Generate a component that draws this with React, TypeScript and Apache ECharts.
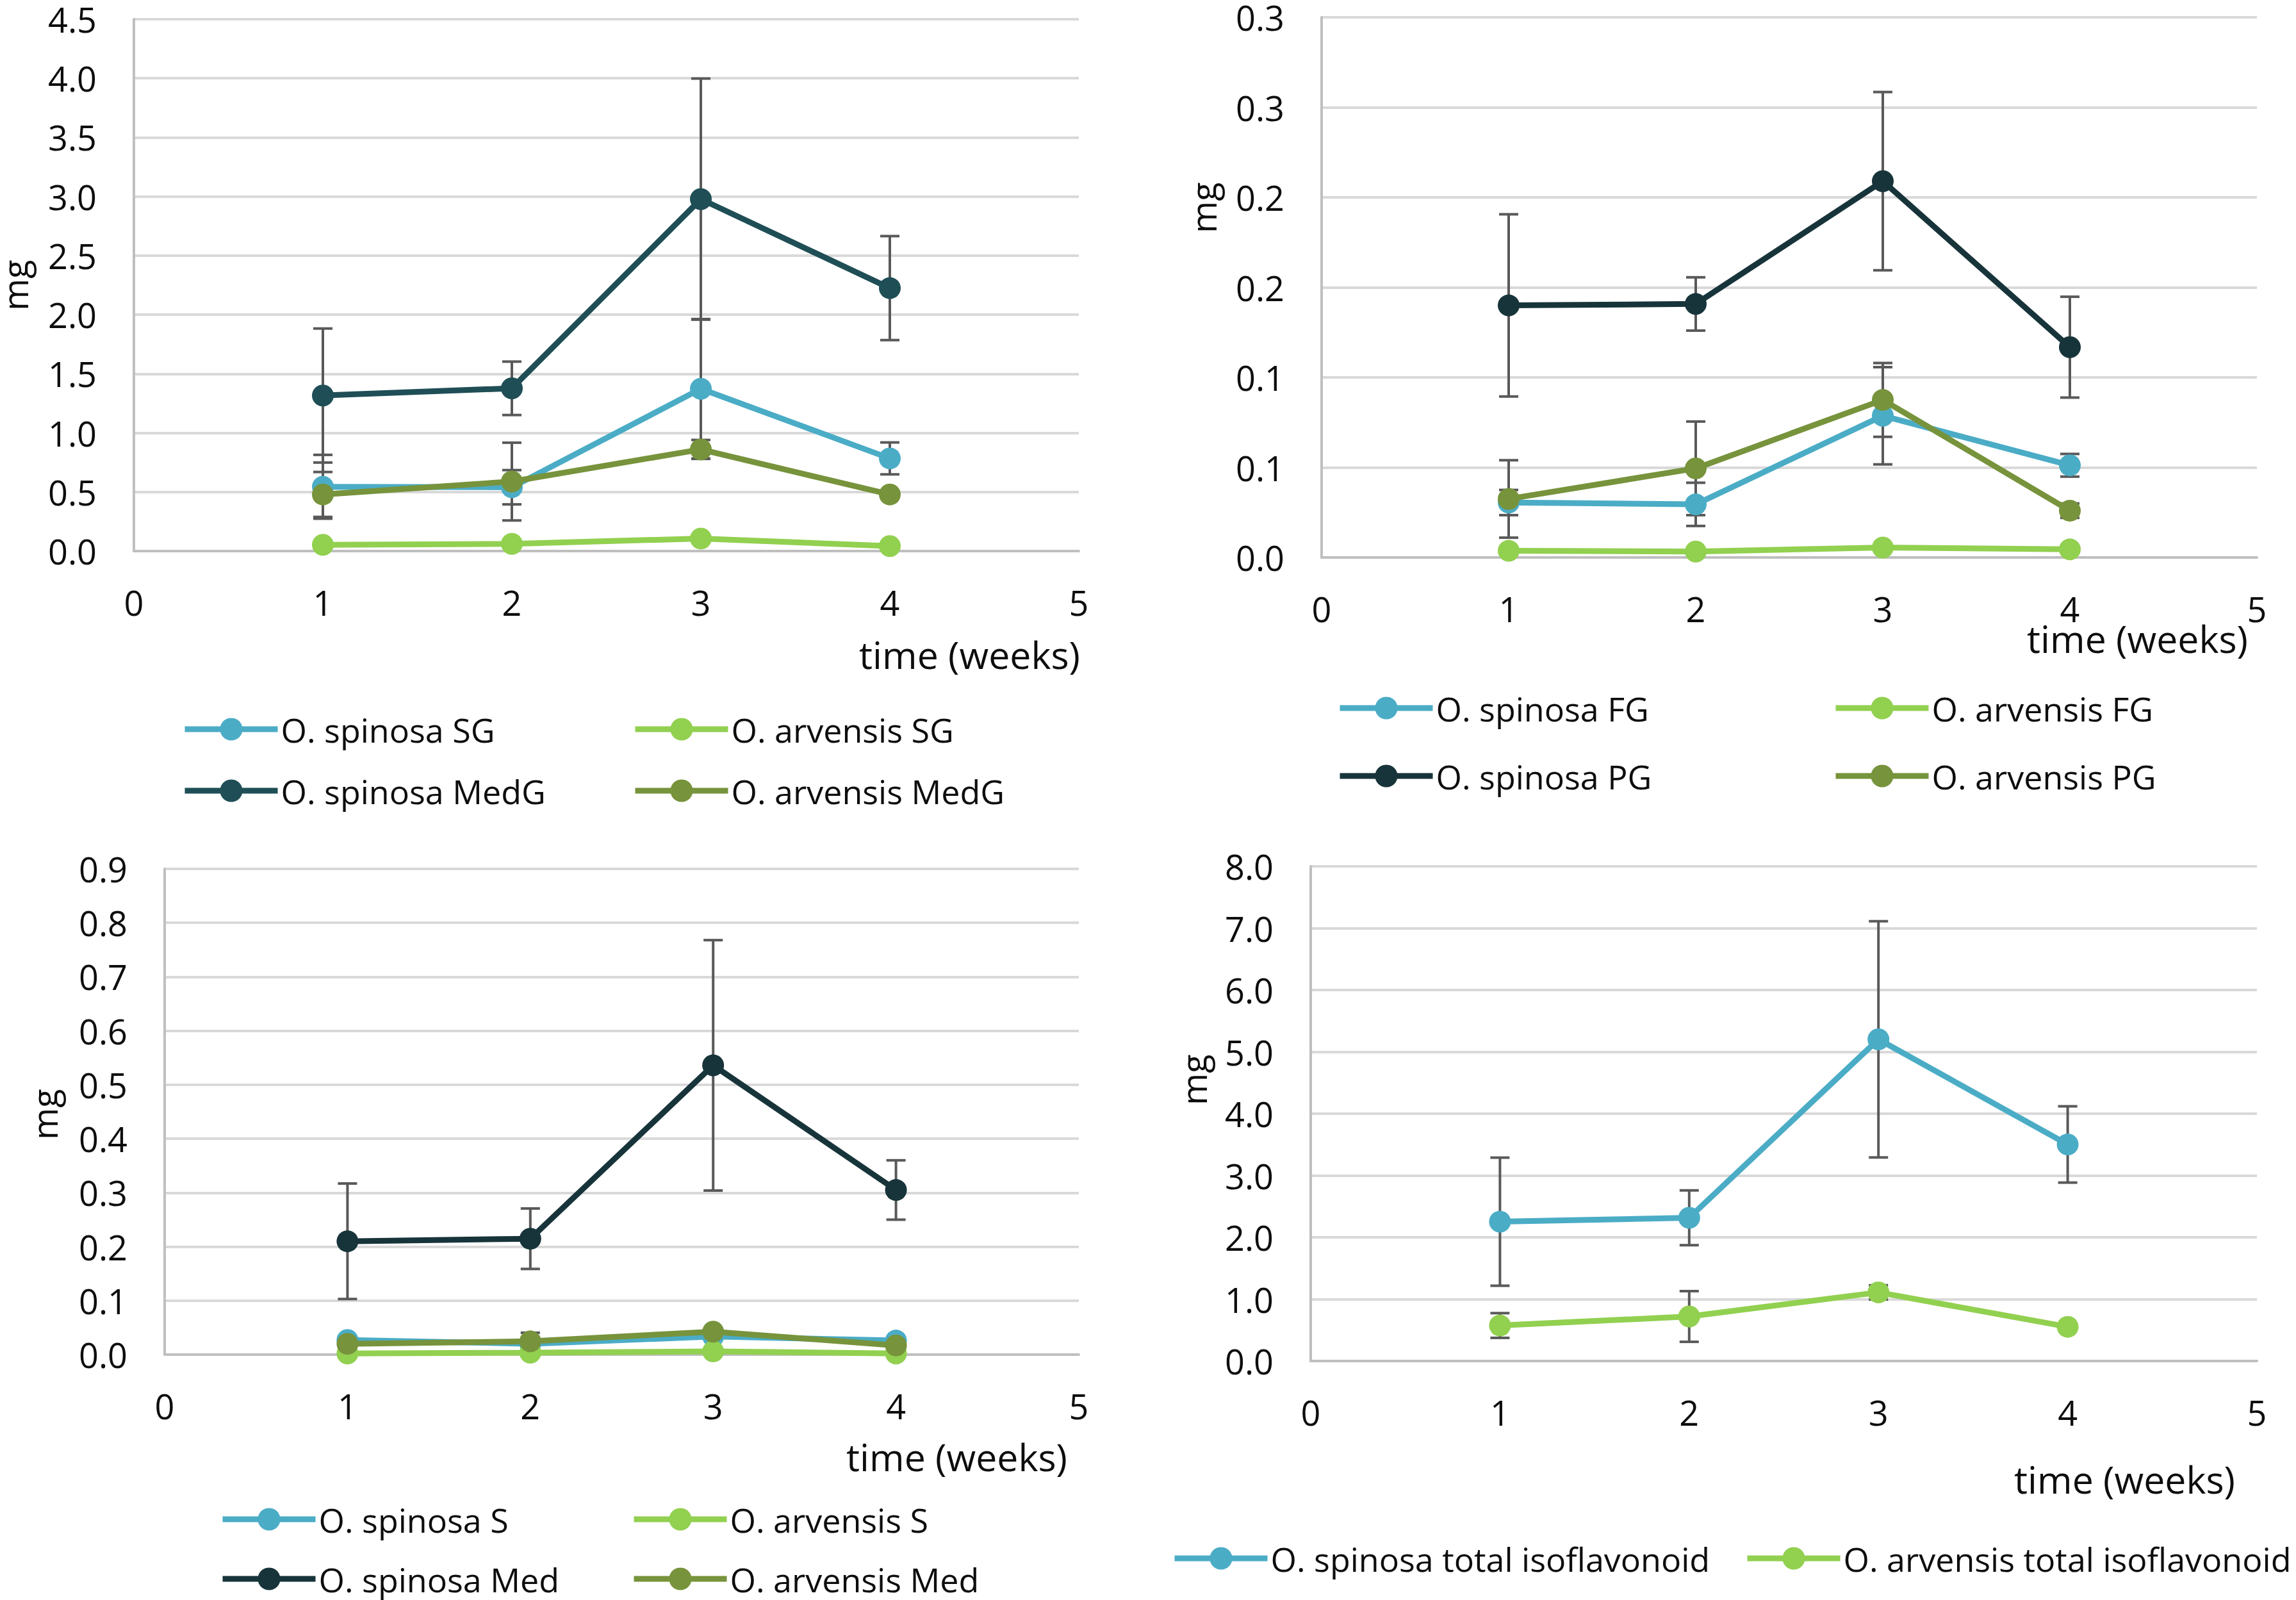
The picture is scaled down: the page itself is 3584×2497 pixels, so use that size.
import React, { useEffect, useRef } from 'react';
import * as echarts from 'echarts';

// ---------- data ----------
const weeks = [1, 2, 3, 4];
const xTicks = ['0', '1', '2', '3', '4', '5'];

// Panel A (top-left)
const spinosaSG = [0.544, 0.54, 1.373, 0.784];
const spinosaSGErr = [0.27, 0.145, 0.59, 0.135];
const arvensisSG = [0.053, 0.061, 0.106, 0.042];
const arvensisSGErr = [0.01, 0.01, 0.015, 0.008];
const spinosaMedG = [1.316, 1.377, 2.978, 2.225];
const spinosaMedGErr = [0.567, 0.226, 1.02, 0.44];
const arvensisMedG = [0.479, 0.588, 0.86, 0.479];
const arvensisMedGErr = [0.19, 0.329, 0.08, 0.03];
const yTicksA = ['0.0', '0.5', '1.0', '1.5', '2.0', '2.5', '3.0', '3.5', '4.0', '4.5'];

// Panel B (top-right)
const spinosaFG = [0.0305, 0.0295, 0.0787, 0.0512];
const spinosaFGErr = [0.007, 0.012, 0.027, 0.0063];
const arvensisFG = [0.0037, 0.0033, 0.0055, 0.0045];
const arvensisFGErr = [0.001, 0.001, 0.001, 0.001];
const spinosaPG = [0.14, 0.1408, 0.209, 0.1168];
const spinosaPGErr = [0.0506, 0.0148, 0.0495, 0.028];
const arvensisPG = [0.0325, 0.0495, 0.0875, 0.026];
const arvensisPGErr = [0.0215, 0.026, 0.0205, 0.004];
const yTicksB = ['0.0', '0.1', '0.1', '0.2', '0.2', '0.3', '0.3'];

// Panel C (bottom-left)
const spinosaS = [0.027, 0.02, 0.0335, 0.026];
const spinosaSErr = [0.003, 0.003, 0.005, 0.004];
const arvensisS = [0.002, 0.0035, 0.006, 0.002];
const arvensisSErr = [0.001, 0.001, 0.001, 0.001];
const spinosaMed = [0.21, 0.2147, 0.536, 0.305];
const spinosaMedErr = [0.107, 0.056, 0.232, 0.055];
const arvensisMed = [0.02, 0.0245, 0.0425, 0.017];
const arvensisMedErr = [0.005, 0.016, 0.006, 0.004];
const yTicksC = ['0.0', '0.1', '0.2', '0.3', '0.4', '0.5', '0.6', '0.7', '0.8', '0.9'];

// Panel D (bottom-right)
const spinosaTotal = [2.253, 2.316, 5.202, 3.502];
const spinosaTotalErr = [1.036, 0.443, 1.91, 0.617];
const arvensisTotal = [0.574, 0.72, 1.11, 0.553];
const arvensisTotalErr = [0.2, 0.41, 0.115, 0.04];
const yTicksD = ['0.0', '1.0', '2.0', '3.0', '4.0', '5.0', '6.0', '7.0', '8.0'];

// ---------- styles ----------
const FONT = "'Open Sans', 'Noto Sans', sans-serif";
const TEXT = '#0d0d0d';
const C_BLUE = '#4bacc6';
const C_LGREEN = '#92d050';
const C_TEAL = '#1f4e56';
const C_DARK = '#17343a';
const C_OLIVE = '#77933c';
const ERR = '#595959';
const LINE_W = 9;

const grids = [
  { left: 209, top: 30, width: 1475, height: 830 },
  { left: 2063, top: 27, width: 1460, height: 843 },
  { left: 257, top: 1356, width: 1427, height: 758 },
  { left: 2046, top: 1352, width: 1477, height: 772 },
];

const yDefs = [
  { max: 4.5, interval: 0.5, ticks: yTicksA },
  { max: 0.3, interval: 0.05, ticks: yTicksB },
  { max: 0.9, interval: 0.1, ticks: yTicksC },
  { max: 8, interval: 1, ticks: yTicksD },
];

function lineSeries(name: string, values: number[], color: string, idx: number) {
  return {
    type: 'line',
    name,
    xAxisIndex: idx,
    yAxisIndex: idx,
    data: weeks.map((w, i) => [w, values[i]]),
    symbol: 'circle',
    symbolSize: 34,
    lineStyle: { width: LINE_W, color },
    itemStyle: { color },
    z: 3,
  };
}

function errSeries(values: number[], errs: number[], idx: number) {
  return {
    type: 'custom',
    xAxisIndex: idx,
    yAxisIndex: idx,
    silent: true,
    z: 2,
    encode: { x: 0, y: [1, 2] },
    data: weeks.map((w, i) => [w, values[i] - errs[i], values[i] + errs[i]]),
    renderItem: (params: any, api: any) => {
      const x = api.value(0);
      const lo = api.coord([x, api.value(1)]);
      const hi = api.coord([x, api.value(2)]);
      const st = { stroke: ERR, lineWidth: 4 };
      const hw = 15;
      return {
        type: 'group',
        children: [
          { type: 'line', shape: { x1: lo[0], y1: lo[1], x2: hi[0], y2: hi[1] }, style: st },
          { type: 'line', shape: { x1: hi[0] - hw, y1: hi[1], x2: hi[0] + hw, y2: hi[1] }, style: st },
          { type: 'line', shape: { x1: lo[0] - hw, y1: lo[1], x2: lo[0] + hw, y2: lo[1] }, style: st },
        ],
      };
    },
  };
}

function legend(name: string, left: number, cy: number) {
  return {
    data: [name],
    left,
    top: cy - 24,
    padding: 0,
    itemWidth: 145,
    itemHeight: 44,
    itemGap: 0,
    selectedMode: false,
    lineStyle: { width: LINE_W },
    textStyle: { fontSize: 52, fontFamily: FONT, color: TEXT, lineHeight: 48 },
  };
}

function label(text: string, x: number, y: number, size: number, rot = 0, align = 'right') {
  return {
    type: 'text',
    x,
    y,
    rotation: rot,
    style: {
      text,
      fontSize: size,
      fontFamily: FONT,
      fill: TEXT,
      align,
      textAlign: align,
      verticalAlign: 'middle',
      textVerticalAlign: 'middle',
    },
  };
}

export default function App() {
  const ref = useRef<HTMLDivElement>(null);
  useEffect(() => {
    if (!ref.current) return;
    const chart = echarts.init(ref.current, undefined, { renderer: 'svg' });
    const option = {
      animation: false,
      backgroundColor: '#ffffff',
      grid: grids.map((g) => ({ ...g, containLabel: false })),
      xAxis: grids.map((_, i) => ({
        type: 'value',
        gridIndex: i,
        min: 0,
        max: 5,
        interval: 1,
        axisLine: { show: true, onZero: false, lineStyle: { color: '#bfbfbf', width: 4 } },
        axisTick: { show: false },
        splitLine: { show: false },
        axisLabel: {
          fontSize: 54,
          fontFamily: FONT,
          color: TEXT,
          margin: 53,
          showMinLabel: true,
          showMaxLabel: true,
          formatter: (v: number) => xTicks[Math.round(v)],
        },
      })),
      yAxis: yDefs.map((d, i) => ({
        type: 'value',
        gridIndex: i,
        min: 0,
        max: d.max,
        interval: d.interval,
        axisLine: { show: true, lineStyle: { color: '#bfbfbf', width: 4 } },
        axisTick: { show: false },
        splitLine: { show: true, lineStyle: { color: '#d9d9d9', width: 4 } },
        axisLabel: {
          fontSize: 54,
          fontFamily: FONT,
          color: TEXT,
          margin: 58,
          showMinLabel: true,
          showMaxLabel: true,
          formatter: (v: number) => d.ticks[Math.round(v / d.interval)],
        },
      })),
      legend: [
        legend('O. spinosa SG', 284, 1136),
        legend('O. arvensis SG', 987, 1136),
        legend('O. spinosa MedG', 284, 1232),
        legend('O. arvensis MedG', 987, 1232),
        legend('O. spinosa FG', 2087, 1103),
        legend('O. arvensis FG', 2861, 1103),
        legend('O. spinosa PG', 2087, 1209),
        legend('O. arvensis PG', 2861, 1209),
        legend('O. spinosa S', 343, 2369),
        legend('O. arvensis S', 985, 2369),
        legend('O. spinosa Med', 343, 2462),
        legend('O. arvensis Med', 985, 2462),
        legend('O. spinosa total isoflavonoid', 1829, 2430),
        legend('O. arvensis total isoflavonoid', 2723, 2430),
      ],
      graphic: [
        label('time (weeks)', 1686, 1021, 59),
        label('time (weeks)', 3509, 996, 59),
        label('time (weeks)', 1666, 2273, 59),
        label('time (weeks)', 3489, 2308, 59),
        label('mg', 23, 445, 54, Math.PI / 2, 'center'),
        label('mg', 1878, 324, 54, Math.PI / 2, 'center'),
        label('mg', 69, 1739, 54, Math.PI / 2, 'center'),
        label('mg', 1863, 1685, 54, Math.PI / 2, 'center'),
      ],
      series: [
        errSeries(spinosaSG, spinosaSGErr, 0),
        errSeries(arvensisSG, arvensisSGErr, 0),
        errSeries(spinosaMedG, spinosaMedGErr, 0),
        errSeries(arvensisMedG, arvensisMedGErr, 0),
        lineSeries('O. spinosa SG', spinosaSG, C_BLUE, 0),
        lineSeries('O. arvensis SG', arvensisSG, C_LGREEN, 0),
        lineSeries('O. spinosa MedG', spinosaMedG, C_TEAL, 0),
        lineSeries('O. arvensis MedG', arvensisMedG, C_OLIVE, 0),

        errSeries(spinosaFG, spinosaFGErr, 1),
        errSeries(arvensisFG, arvensisFGErr, 1),
        errSeries(spinosaPG, spinosaPGErr, 1),
        errSeries(arvensisPG, arvensisPGErr, 1),
        lineSeries('O. spinosa FG', spinosaFG, C_BLUE, 1),
        lineSeries('O. arvensis FG', arvensisFG, C_LGREEN, 1),
        lineSeries('O. spinosa PG', spinosaPG, C_DARK, 1),
        lineSeries('O. arvensis PG', arvensisPG, C_OLIVE, 1),

        errSeries(spinosaS, spinosaSErr, 2),
        errSeries(arvensisS, arvensisSErr, 2),
        errSeries(spinosaMed, spinosaMedErr, 2),
        errSeries(arvensisMed, arvensisMedErr, 2),
        lineSeries('O. spinosa S', spinosaS, C_BLUE, 2),
        lineSeries('O. arvensis S', arvensisS, C_LGREEN, 2),
        lineSeries('O. spinosa Med', spinosaMed, C_DARK, 2),
        lineSeries('O. arvensis Med', arvensisMed, C_OLIVE, 2),

        errSeries(spinosaTotal, spinosaTotalErr, 3),
        errSeries(arvensisTotal, arvensisTotalErr, 3),
        lineSeries('O. spinosa total isoflavonoid', spinosaTotal, C_BLUE, 3),
        lineSeries('O. arvensis total isoflavonoid', arvensisTotal, C_LGREEN, 3),
      ],
    };
    chart.setOption(option as any);
    return () => chart.dispose();
  }, []);
  return (
    <div
      ref={ref}
      style={{ position: 'fixed', left: 0, top: 0, width: 3584, height: 2497, background: '#fff' }}
    />
  );
}
